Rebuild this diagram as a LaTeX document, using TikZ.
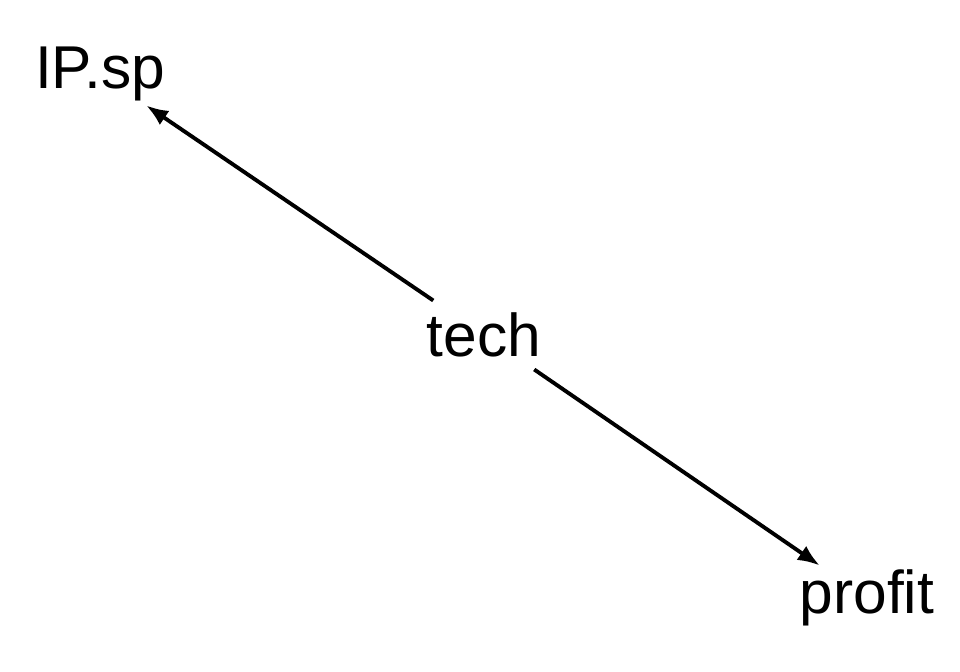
\documentclass[tikz,border=0pt]{standalone}
\usepackage{fontspec}
\setmainfont{Liberation Sans}
\usepackage{tikz}
\usepackage{tkz-graph}
\usetikzlibrary{arrows.meta}

\begin{document}
\begin{tikzpicture}
          \useasboundingbox (0,0) rectangle (9.6,6.72);
          \tikzset{EdgeStyle/.style={-{Latex[length=0.22cm,width=0.17cm]}, line width=1.1pt, shorten >=-4pt}}
          \tikzset{VertexStyle/.style = {shape=rectangle, draw=none, fill=none, inner sep=3.5pt,
                   font=\fontsize{17.2}{20}\selectfont}}

          \Vertex[x=4.84,y=3.37,L={tech}]{tech}
          \Vertex[x=1.00,y=5.98,L={IP.sp}]{ipsp}
          \Vertex[x=8.67,y=0.74,L={profit}]{profit}

          \Edge(tech)(ipsp)
          \Edge(tech)(profit)
        \end{tikzpicture}
\end{document}
